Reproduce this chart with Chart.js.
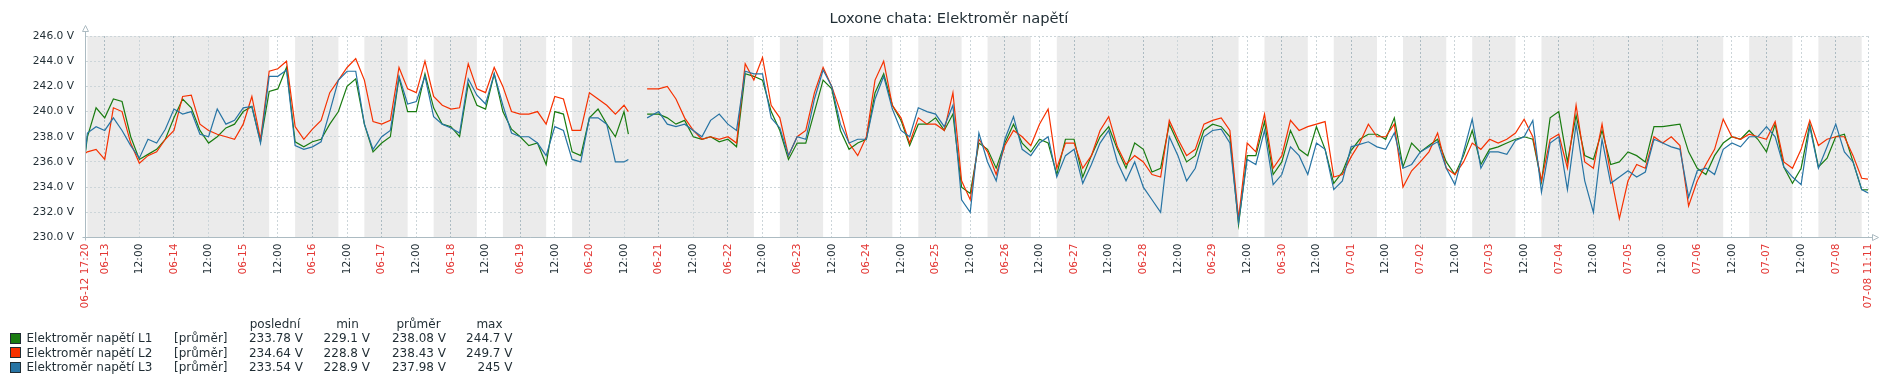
<!DOCTYPE html>
<html><head><meta charset="utf-8">
<script src="https://cdn.jsdelivr.net/npm/chart.js@4.4.0/dist/chart.umd.min.js"></script>
<style>
html,body{margin:0;padding:0;background:#fff;}
#wrap{position:relative;width:1898px;height:383px;overflow:hidden;}
#c{position:absolute;left:0;top:0;}
.lg{position:absolute;font-family:"DejaVu Sans";font-size:12px;color:#1F2C33;line-height:14px;height:14px;white-space:nowrap;}
.box{position:absolute;width:9px;height:9px;border:1px solid #1F2C33;}
</style></head><body>
<div id="wrap"><canvas id="c" width="1898" height="383"></canvas><div id="legend"></div></div>
<script>
// time axis: hours after 2020-06-12 00:00
const START = 17 + 20/60;       // 06-12 17:20
const END = 26*24 + 11 + 11/60; // 07-08 11:11
const startLabel = '06-12 17:20';
const endLabel = '07-08 11:11';

const hours = [
17.333,18,21,24,27,30,33,36,39,42,45,48,51,54,57,60,63,66,69,72,
75,78,81,84,87,90,93,96,99,102,105,108,111,114,117,120,123,126,129,132,
135,138,141,144,147,150,153,156,159,162,165,168,171,174,177,180,183,186,189,192,
195,198,201,204,205.5,208.5,212,216,219,222,225,228,231,234,237,240,243,246,249,252,
255,258,261,264,267,270,273,276,279,282,285,288,291,294,297,300,303,306,309,312,
315,318,321,324,327,330,333,336,339,342,345,348,351,354,357,360,363,366,369,372,
375,378,381,384,387,390,393,396,399,402,405,408,411,414,417,420,423,426,429,432,
435,438,441,444,447,450,453,456,459,462,465,468,471,474,477,480,483,486,489,492,
495,498,501,504,507,510,513,516,519,522,525,528,531,534,537,540,543,546,549,552,
555,558,561,564,567,570,573,576,579,582,585,588,591,594,597,600,603,606,609,612,
615,618,621,624,627,630,633,635.183
];

const l1 = [
236.8,238.0,240.3,239.5,241.0,240.8,238.0,236.2,236.6,237.0,237.8,239.5,241.0,240.3,238.5,237.5,238.0,238.7,239.0,240.0,
240.4,237.6,241.6,241.8,243.5,237.6,237.2,237.6,237.8,239.0,240.0,242.0,242.6,239.0,236.8,237.5,238.0,242.7,240.0,240.0,
243.0,240.3,239.0,238.8,238.0,242.2,240.5,240.2,243.0,240.0,238.6,238.0,237.3,237.5,235.8,240.0,239.8,236.8,236.5,239.5,
240.2,239.0,238.0,240.0,238.2,null,239.8,239.8,239.5,239.0,239.3,238.0,237.8,238.0,237.6,237.8,237.2,243.0,242.8,242.5,
240.0,238.5,236.2,237.5,237.5,240.0,242.5,241.8,238.5,237.0,237.5,237.8,241.5,243.0,240.5,239.3,237.3,239.0,239.0,239.5,
238.5,239.8,234.0,233.5,237.5,237.0,235.5,237.5,239.0,237.5,236.8,237.8,237.5,235.0,237.8,237.8,234.8,236.5,238.0,238.8,
237.0,235.5,237.5,237.0,235.2,235.5,239.0,237.5,236.0,236.5,238.5,239.0,238.8,238.0,231.0,236.5,236.5,239.2,235.0,236.0,
238.5,237.0,236.5,238.8,237.0,234.3,235.2,236.9,237.8,238.2,238.2,237.8,239.5,235.6,237.5,236.8,237.3,237.8,236.0,235.0,
236.5,238.5,235.8,237.0,237.2,237.5,237.8,238.0,237.8,234.4,239.5,240.0,236.0,239.7,236.5,236.2,238.5,235.8,236.0,236.8,
236.5,236.0,238.8,238.8,238.9,239.0,236.8,235.5,235.0,236.5,237.5,238.0,237.8,238.5,237.8,236.8,239.0,235.6,234.3,235.5,
239.0,235.6,236.3,238.0,238.2,236.0,233.8,233.78
];

const l2 = [
236.7,236.8,237.0,236.2,240.3,240.0,237.5,235.9,236.5,236.8,237.8,238.5,241.2,241.3,239.0,238.5,238.2,238.0,237.8,239.0,
241.2,237.8,243.2,243.4,244.0,238.8,237.8,238.6,239.3,241.5,242.5,243.5,244.2,242.5,239.2,239.0,239.3,243.5,241.8,241.5,
244.0,241.2,240.5,240.2,240.3,243.8,241.8,241.5,243.5,242.0,240.0,239.8,239.8,240.0,239.0,241.2,241.0,238.5,238.5,241.5,
241.0,240.5,239.8,240.5,240.0,null,241.8,241.8,242.0,241.0,239.5,238.5,237.8,238.0,237.8,238.0,237.5,243.8,242.5,244.3,
240.5,239.5,236.5,238.0,238.5,241.5,243.5,242.0,240.0,237.5,236.5,238.0,242.5,244.0,240.5,239.5,237.5,239.5,239.0,239.0,
238.5,241.5,234.5,233.0,237.8,236.8,235.0,237.3,238.5,238.0,237.3,239.0,240.2,235.5,237.5,237.5,235.5,236.5,238.5,239.6,
237.2,235.8,236.5,236.0,235.0,234.8,239.3,237.8,236.5,237.0,239.0,239.3,239.5,238.5,231.5,237.5,236.8,239.8,235.5,236.5,
239.3,238.5,238.8,239.0,239.2,234.8,235.0,236.4,237.5,239.0,238.0,238.0,239.0,234.0,235.3,236.0,236.8,238.3,235.5,235.0,
236.0,237.5,237.0,237.8,237.5,237.8,238.3,239.4,238.0,234.5,237.8,238.2,235.5,240.5,236.0,235.5,239.0,235.0,231.5,234.5,
235.8,235.5,238.0,237.5,238.0,237.3,232.5,234.5,235.8,237.0,239.4,238.0,237.8,238.2,238.0,237.8,239.2,236.0,235.5,237.0,
239.3,237.3,237.8,238.0,238.0,236.5,234.7,234.64
];

const l3 = [
236.9,238.3,238.8,238.5,239.5,238.5,237.3,236.3,237.8,237.5,238.6,240.2,239.8,240.0,238.2,238.0,240.2,239.0,239.3,240.3,
240.4,237.5,242.8,242.8,243.3,237.3,237.0,237.2,237.6,240.0,242.5,243.2,243.2,239.0,237.0,238.0,238.5,242.8,240.6,240.8,
242.8,239.6,239.0,238.7,238.3,242.6,241.3,240.6,243.0,240.5,238.3,238.0,238.0,237.5,236.5,238.8,238.5,236.2,236.0,239.5,
239.5,239.0,236.0,236.0,236.2,null,239.5,240.0,239.0,238.8,239.0,238.5,238.0,239.3,239.8,239.0,238.5,243.2,243.0,243.0,
239.5,238.7,236.5,238.0,237.8,241.0,243.3,242.0,239.0,237.5,237.8,237.8,241.0,242.8,240.2,238.5,238.0,240.3,240.0,239.8,
238.8,240.5,233.0,232.0,238.3,236.0,234.5,237.8,239.6,237.0,236.5,237.5,238.0,234.8,236.5,237.0,234.3,235.8,237.5,238.5,
236.0,234.5,236.0,234.0,233.0,232.0,238.0,236.5,234.5,235.5,238.0,238.5,238.6,237.5,231.2,236.2,235.8,238.5,234.2,235.0,
237.2,236.5,235.0,237.5,237.0,233.8,234.5,237.2,237.4,237.6,237.2,237.0,238.3,235.5,235.8,236.8,237.2,237.6,235.5,234.2,
236.8,239.4,235.5,236.8,236.8,236.6,237.7,238.0,239.3,233.6,237.5,238.0,233.8,239.0,234.5,232.0,237.8,234.3,234.8,235.3,
234.8,235.2,237.8,237.5,237.2,237.0,233.2,235.3,235.5,235.0,237.0,237.5,237.2,238.0,238.0,238.8,238.0,235.6,234.8,234.2,
238.8,235.5,237.2,239.0,236.8,236.0,233.8,233.54
];

const seriesNames = ['Elektroměr napětí L1','Elektroměr napětí L2','Elektroměr napětí L3'];
const seriesColors = ['#1A7C11','#F63100','#2774A4'];
const seriesValues = [l1, l2, l3];
const legendHeaders = ['poslední','min','průměr','max'];
const legendFunc = '[průměr]';
const legendLast = ['233.78 V','234.64 V','233.54 V'];
const legendMin  = ['229.1 V','228.8 V','228.9 V'];
const legendAvg  = ['238.08 V','238.43 V','237.98 V'];
const legendMax  = ['244.7 V','249.7 V','245 V'];

const yMin = 230, yMax = 246, yStep = 2;
const WORK_FROM = 9, WORK_TO = 18;  // working time Mon-Fri
const FIRST_DOW = 5;                 // 2020-06-12 = Friday

seriesValues.forEach(a => { if (a.length !== hours.length) throw new Error('length mismatch ' + a.length + ' vs ' + hours.length); });

// x ticks: start, every 12 h, end
const xTickHours = [START];
for (let h = 24; h < END; h += 12) xTickHours.push(h);
xTickHours.push(END);
const pad2 = n => (n < 10 ? '0' : '') + n;
const xTickLabels = xTickHours.map(v => {
  if (v === START) return startLabel;
  if (v === END) return endLabel;
  if (v % 24 === 12) return '12:00';
  const d = 12 + v / 24;
  return d <= 30 ? '06-' + pad2(d) : '07-' + pad2(d - 30);
});
const isRed = v => v === START || v === END || v % 24 === 0;

const TEXT = '#1F2C33', RED = '#E33734', GRID = '#CCD5D9', MAINGRID = '#ACBBC2', NONWORK = '#EBEBEB';
const axisFont = {family: 'DejaVu Sans', size: 10.67};

const bandsPlugin = {
  id: 'bands',
  beforeDraw(chart) {
    const {ctx, chartArea: a, scales: {x}} = chart;
    ctx.save();
    ctx.fillStyle = '#fff';
    ctx.fillRect(0, 0, chart.width, chart.height);
    const ints = [];
    for (let d = 0; d <= 26; d++) {
      const dow = (FIRST_DOW + d) % 7;
      const working = dow >= 1 && dow <= 5;
      const list = working ? [[d*24, d*24 + WORK_FROM], [d*24 + WORK_TO, d*24 + 24]] : [[d*24, d*24 + 24]];
      for (const [s, e] of list) {
        const s2 = Math.max(s, START), e2 = Math.min(e, END);
        if (e2 <= s2) continue;
        if (ints.length && Math.abs(ints[ints.length-1][1] - s2) < 1e-9) ints[ints.length-1][1] = e2;
        else ints.push([s2, e2]);
      }
    }
    ctx.fillStyle = NONWORK;
    for (const [s, e] of ints) {
      const p1 = x.getPixelForValue(s), p2 = x.getPixelForValue(e);
      ctx.fillRect(p1, a.top, p2 - p1, a.bottom - a.top);
    }
    ctx.restore();
  }
};

const axesPlugin = {
  id: 'axes',
  afterDraw(chart) {
    const {ctx, chartArea: a} = chart;
    ctx.save();
    ctx.strokeStyle = MAINGRID;
    ctx.lineWidth = 1;
    const lx = a.left, by = a.bottom;
    ctx.beginPath();
    ctx.moveTo(lx, a.top - 9); ctx.lineTo(lx, by + 3);
    ctx.moveTo(lx - 3, by); ctx.lineTo(a.right + 5, by);
    ctx.stroke();
    ctx.fillStyle = '#fff';
    ctx.beginPath();
    ctx.moveTo(lx, a.top - 10.5); ctx.lineTo(lx + 3, a.top - 4.5); ctx.lineTo(lx - 3, a.top - 4.5); ctx.closePath();
    ctx.fill(); ctx.stroke();
    ctx.beginPath();
    ctx.moveTo(a.right + 10.5, by); ctx.lineTo(a.right + 4.5, by - 3); ctx.lineTo(a.right + 4.5, by + 3); ctx.closePath();
    ctx.fill(); ctx.stroke();
    ctx.restore();
  }
};

const chart = new Chart(document.getElementById('c'), {
  type: 'line',
  data: {
    datasets: seriesValues.map((vals, i) => ({
      label: seriesNames[i],
      data: hours.map((h, j) => ({x: h, y: vals[j]})),
      borderColor: seriesColors[i],
      backgroundColor: seriesColors[i],
      borderWidth: 1.2,
      pointRadius: 0,
      tension: 0,
      fill: false,
      spanGaps: false,
      order: 2 - i
    }))
  },
  options: {
    responsive: false,
    animation: false,
    devicePixelRatio: 1,
    layout: {padding: 0},
    plugins: {
      legend: {display: false},
      tooltip: {enabled: false},
      title: {
        display: true,
        text: 'Loxone chata: Elektroměr napětí',
        color: TEXT,
        font: {family: 'DejaVu Sans', size: 14.67, weight: 'normal', lineHeight: 1.2},
        padding: {top: 10.7, bottom: 7.7}
      }
    },
    scales: {
      x: {
        type: 'linear', position: 'bottom', min: START, max: END,
        afterBuildTicks: s => { s.ticks = xTickHours.map(v => ({value: v})); },
        afterFit: s => { s.height = 383 - 237.5; },
        ticks: {
          autoSkip: false, maxRotation: 90, minRotation: 90, padding: 6,
          font: axisFont,
          color: c => (c.tick && isRed(c.tick.value)) ? RED : TEXT,
          callback: (v, i) => xTickLabels[i]
        },
        grid: {
          drawTicks: false, lineWidth: 1,
          color: c => {
            if (!c.tick) return 'rgba(0,0,0,0)';
            const v = c.tick.value;
            if (v === START) return 'rgba(0,0,0,0)';
            if (v === END) return GRID;
            return v % 24 === 0 ? MAINGRID : GRID;
          }
        },
        border: {display: false, dash: [2, 2]}
      },
      y: {
        min: yMin, max: yMax,
        afterFit: s => { s.width = 85.5; },
        ticks: {stepSize: yStep, padding: 11.5, font: axisFont, color: TEXT, callback: v => v.toFixed(1) + ' V'},
        grid: {drawTicks: false, lineWidth: 1, color: c => (c.tick && c.tick.value === yMin) ? 'rgba(0,0,0,0)' : GRID},
        border: {display: false, dash: [2, 2]}
      },
      yR: {
        position: 'right', min: 0, max: 1,
        afterFit: s => { s.width = 30; },
        ticks: {display: false},
        grid: {display: false},
        border: {display: false}
      }
    }
  },
  plugins: [bandsPlugin, axesPlugin]
});

// legend (HTML text)
const lg = document.getElementById('legend');
function addText(txt, left, cy, align, w) {
  const d = document.createElement('div');
  d.className = 'lg';
  d.textContent = txt;
  d.style.top = (cy - 7) + 'px';
  if (align === 'right') { d.style.left = (left - w) + 'px'; d.style.width = w + 'px'; d.style.textAlign = 'right'; }
  else if (align === 'center') { d.style.left = (left - w/2) + 'px'; d.style.width = w + 'px'; d.style.textAlign = 'center'; }
  else d.style.left = left + 'px';
  lg.appendChild(d);
}
const headerCenters = [275, 347.5, 418.5, 489.5];
const valueRights = [303, 370, 446, 512.5];
const headerY = 323.5, rowY = [338, 352.5, 367];
legendHeaders.forEach((h, i) => addText(h, headerCenters[i], headerY, 'center', 100));
seriesNames.forEach((n, i) => {
  const b = document.createElement('div');
  b.className = 'box';
  b.style.left = '10px';
  b.style.top = (rowY[i] - 5.5) + 'px';
  b.style.background = seriesColors[i];
  lg.appendChild(b);
  addText(n, 26.5, rowY[i], 'left');
  addText(legendFunc, 174, rowY[i], 'left');
  [legendLast, legendMin, legendAvg, legendMax].forEach((col, k) => addText(col[i], valueRights[k], rowY[i], 'right', 120));
});
</script>
</body></html>
